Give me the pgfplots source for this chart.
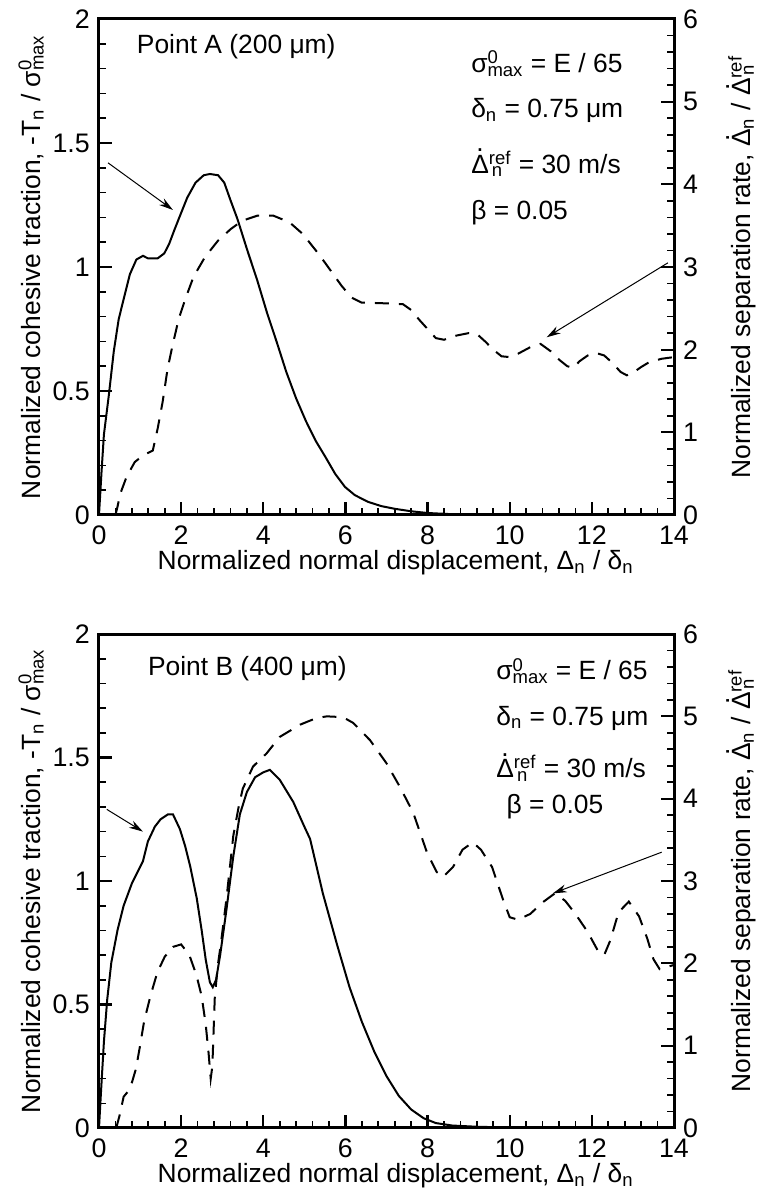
\documentclass[border=0pt]{standalone}
\usepackage{fontspec}
\setmainfont{Liberation Sans}
\usepackage{pgfplots}
\pgfplotsset{compat=1.18}
\usepackage{pgfplotstable}
\usetikzlibrary{arrows.meta}

\newcommand\dDelta{\makebox[0pt][l]{\makebox[0.668em][c]{\raisebox{0.8em}{.}}}Δ}
\newcommand\smax{σ\rlap{\textsuperscript{0}}\textsubscript{max}}
\newcommand\dref{\dDelta\rlap{\textsubscript{\,n}}\textsuperscript{ref}}

\pgfplotstableread{
x y
0 0
0.06 0.17
0.12 0.325
0.24 0.484
0.36 0.66
0.48 0.79
0.6 0.87
0.75 0.97
0.91 1.03
1.07 1.045
1.19 1.035
1.43 1.035
1.59 1.055
1.71 1.094
1.83 1.147
1.98 1.21
2.15 1.28
2.35 1.34
2.55 1.37
2.7 1.375
2.9 1.37
3.05 1.34
3.2 1.27
3.37 1.194
3.61 1.068
3.85 0.948
4.09 0.816
4.33 0.696
4.56 0.577
4.8 0.47
5.04 0.378
5.28 0.298
5.52 0.232
5.75 0.166
5.99 0.113
6.23 0.08
6.55 0.053
6.87 0.036
7.2 0.025
7.6 0.015
8.0 0.008
8.5 0.004
9.0 0.002
10 0.001
14 0
}\solidA

\pgfplotstableread{
x y
0.4 0
0.45 0.1
0.52 0.26
0.67 0.46
0.87 0.64
1.07 0.72
1.31 0.78
1.43 1.05
1.55 1.37
1.67 1.77
1.79 2.05
1.94 2.37
2.1 2.61
2.3 2.88
2.58 3.12
2.9 3.32
3.21 3.46
3.49 3.56
3.85 3.62
4.25 3.62
4.64 3.54
4.96 3.4
5.28 3.2
5.52 3.04
5.75 2.88
5.91 2.77
6.15 2.63
6.39 2.57
7.0 2.56
7.4 2.55
7.6 2.48
7.8 2.36
8.0 2.25
8.2 2.14
8.4 2.12
8.7 2.17
9.0 2.2
9.2 2.19
9.4 2.1
9.6 2.0
9.8 1.92
10.0 1.91
10.2 1.95
10.5 2.03
10.75 2.07
11.0 1.98
11.2 1.88
11.4 1.8
11.55 1.78
11.7 1.86
11.9 1.93
12.1 1.96
12.3 1.93
12.5 1.84
12.7 1.73
12.85 1.69
13.0 1.72
13.2 1.79
13.4 1.85
13.7 1.89
14.0 1.91
}\dashA

\pgfplotstableread{
x y
0 0
0.05 0.15
0.12 0.35
0.2 0.52
0.3 0.67
0.45 0.8
0.6 0.9
0.8 0.99
0.95 1.04
1.07 1.08
1.19 1.16
1.36 1.22
1.5 1.25
1.68 1.27
1.8 1.27
1.97 1.21
2.1 1.14
2.22 1.06
2.38 0.93
2.5 0.8
2.6 0.68
2.7 0.59
2.77 0.57
2.85 0.6
2.95 0.7
3.1 0.88
3.27 1.1
3.43 1.27
3.6 1.36
3.8 1.42
4.0 1.44
4.16 1.45
4.4 1.41
4.73 1.32
5.0 1.22
5.14 1.17
5.45 0.95
5.8 0.74
6.1 0.57
6.4 0.43
6.7 0.31
7.0 0.21
7.3 0.13
7.6 0.075
7.9 0.04
8.2 0.02
8.6 0.01
9.2 0.005
10 0.002
14 0
}\solidB

\pgfplotstableread{
x y
0.42 0
0.5 0.15
0.6 0.38
0.7 0.44
0.8 0.55
0.9 0.72
1.0 1.0
1.1 1.3
1.25 1.6
1.42 1.89
1.6 2.08
1.8 2.2
2.0 2.23
2.2 2.1
2.37 1.86
2.5 1.6
2.6 1.25
2.67 0.9
2.72 0.6
2.76 0.75
2.82 1.6
2.9 2.0
2.97 2.25
3.1 2.77
3.27 3.55
3.4 3.9
3.5 4.12
3.75 4.39
4.08 4.55
4.4 4.75
4.9 4.9
5.3 4.98
5.55 5.0
5.94 4.99
6.19 4.92
6.6 4.71
7.0 4.43
7.33 4.14
7.65 3.83
7.99 3.34
8.22 3.11
8.38 3.05
8.62 3.17
8.85 3.38
9.1 3.47
9.3 3.38
9.57 3.17
9.84 2.77
10.0 2.56
10.2 2.53
10.5 2.6
10.8 2.74
11.1 2.85
11.35 2.76
11.6 2.6
11.9 2.38
12.15 2.15
12.3 2.1
12.45 2.28
12.65 2.62
12.9 2.75
13.15 2.57
13.35 2.3
13.5 2.05
13.65 1.93
13.85 1.96
14.0 1.98
}\dashB

\tikzset{
  solidline/.style={black, line width=1pt},
  dashline/.style={black, line width=1pt, dash pattern=on 7pt off 5pt},
  arr/.style={-{Stealth[length=7pt,width=4pt]}, line width=0.5pt},
}

\pgfplotsset{
  base/.style={
    width=287.5pt, scale only axis,
    xmin=0, xmax=14,
    tick align=inside,
    major tick length=6.5pt, minor tick length=3.5pt,
    tick style={line width=0.8pt, black},
    major tick style={line width=1.1pt},
    axis line style={line width=1.5pt},
    /pgf/number format/assume math mode=true,
    tick label style={font=\fontsize{13.4}{16}\selectfont},
    label style={font=\fontsize{13.2}{16}\selectfont},
  },
  leftax/.style={
    base, ymin=0, ymax=2, ytick={0,0.5,1,1.5,2},
    xtick={0,2,4,6,8,10,12,14},
    minor x tick num=4, minor y tick num=4,
    xtick pos=left, ytick pos=left,
    xticklabel style={yshift=-1pt},
    xlabel={Normalized normal displacement, Δ\textsubscript{n} / δ\textsubscript{n}},
    xlabel style={at={(axis description cs:0.516,-0.097)}, anchor=center},
    ylabel={Normalized cohesive traction, -T\textsubscript{n} / \smax},
    ylabel style={at={(axis description cs:-0.118,0.5)}, anchor=center},
  },
  rightax/.style={
    base, ymin=0, ymax=6, ytick={0,1,2,3,4,5,6},
    minor y tick num=4,
    axis y line*=right, axis x line=none,
    ylabel={Normalized separation rate, \dDelta\textsubscript{n} / \dref},
    ylabel style={at={(axis description cs:1.1165,0.5)}, anchor=center},
  },
}

\begin{document}
\fontsize{13.2}{16}\selectfont
\begin{tikzpicture}
\useasboundingbox (0,0) rectangle (381.5pt,597.5pt);

% ---------- panel (a) ----------
\begin{axis}[leftax, height=248pt, at={(49.5pt,340pt)}, anchor=south west]
  \addplot[solidline, no marks] table {\solidA};
  \node[anchor=west] at (axis cs:0.7,1.89) {Point A (200 μm)};
  \node[anchor=west] at (axis cs:8.84,1.82) {\smax{} = E / 65};
  \node[anchor=west] at (axis cs:8.84,1.63) {δ\textsubscript{n} = 0.75 μm};
  \node[anchor=west] at (axis cs:8.84,1.42) {\dref{} = 30 m/s};
  \node[anchor=west] at (axis cs:8.84,1.22) {β = 0.05};
  \draw[arr] (axis cs:0.22,1.42) -- (axis cs:1.8,1.23);
  \node[anchor=center] at (axis description cs:-0.024,-0.101) {(a)};
\end{axis}
\begin{axis}[rightax, height=248pt, at={(49.5pt,340pt)}, anchor=south west]
  \addplot[dashline, no marks] table {\dashA};
  \draw[arr] (axis cs:13.85,3.05) -- (axis cs:10.9,2.15);
\end{axis}

% ---------- panel (b) ----------
\begin{axis}[leftax, height=247pt, at={(49.5pt,33.5pt)}, anchor=south west]
  \addplot[solidline, no marks] table {\solidB};
  \node[anchor=west] at (axis cs:0.97,1.86) {Point B (400 μm)};
  \node[anchor=west] at (axis cs:9.45,1.85) {\smax{} = E / 65};
  \node[anchor=west] at (axis cs:9.45,1.66) {δ\textsubscript{n} = 0.75 μm};
  \node[anchor=west] at (axis cs:9.45,1.46) {\dref{} = 30 m/s};
  \node[anchor=west] at (axis cs:9.7,1.30) {β = 0.05};
  \draw[arr] (axis cs:0.19,1.29) -- (axis cs:1.07,1.2);
  \node[anchor=center] at (axis description cs:-0.024,-0.101) {(b)};
\end{axis}
\begin{axis}[rightax, height=247pt, at={(49.5pt,33.5pt)}, anchor=south west]
  \addplot[dashline, no marks] table {\dashB};
  \draw[arr] (axis cs:13.7,3.35) -- (axis cs:11.05,2.85);
\end{axis}
\end{tikzpicture}
\end{document}
